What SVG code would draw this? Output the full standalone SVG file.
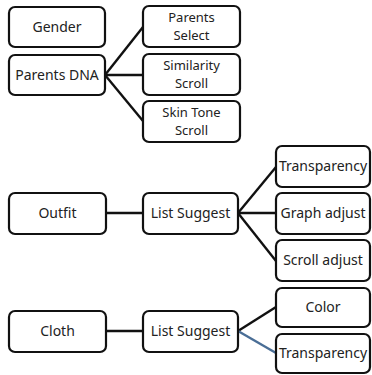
<svg xmlns="http://www.w3.org/2000/svg" width="372" height="375" viewBox="0 0 372 375">
<style>
.b{fill:#fff;stroke:#111;stroke-width:2.2}
text{font-family:"Noto Sans","Open Sans",sans-serif;font-size:14px;fill:#222;text-anchor:middle}
text.t{font-size:13px}
.c{stroke:#111;stroke-width:2.4;fill:none}
.cb{stroke:#4a6e96;stroke-width:2.4;fill:none}
</style>
<rect width="372" height="375" fill="#fff"/>
<g id="connectors">
<line class="c" x1="105" y1="75" x2="143" y2="27"/>
<line class="c" x1="105" y1="75" x2="143" y2="75"/>
<line class="c" x1="105" y1="75" x2="143" y2="121"/>
<line class="c" x1="106" y1="213" x2="143" y2="213"/>
<line class="c" x1="238" y1="213" x2="276" y2="167"/>
<line class="c" x1="238" y1="213" x2="276" y2="213"/>
<line class="c" x1="238" y1="213" x2="276" y2="261"/>
<line class="c" x1="106" y1="331" x2="143" y2="331"/>
<line class="c" x1="238" y1="331" x2="276" y2="307"/>
<line class="cb" x1="238" y1="331" x2="276" y2="353"/>
</g>
<g id="gender"><rect class="b" x="9" y="7" width="96" height="40" rx="6"/><text x="57" y="32">Gender</text></g>
<g id="parents-dna"><rect class="b" x="9" y="55" width="96" height="40" rx="6"/><text x="57" y="80">Parents DNA</text></g>
<g id="parents-select"><rect class="b" x="143" y="6" width="97" height="41" rx="6"/><text class="t" x="191.5" y="21.5">Parents</text><text class="t" x="191.5" y="39.5">Select</text></g>
<g id="similarity-scroll"><rect class="b" x="143" y="54" width="97" height="41" rx="6"/><text class="t" x="191.5" y="69.5">Similarity</text><text class="t" x="191.5" y="87.5">Scroll</text></g>
<g id="skin-tone-scroll"><rect class="b" x="143" y="101" width="97" height="41" rx="6"/><text class="t" x="191.5" y="116.5">Skin Tone</text><text class="t" x="191.5" y="134.5">Scroll</text></g>
<g id="outfit"><rect class="b" x="9" y="193" width="97" height="41" rx="6"/><text x="57.5" y="218">Outfit</text></g>
<g id="list-suggest-1"><rect class="b" x="143" y="193" width="95" height="41" rx="6"/><text x="190.5" y="218">List Suggest</text></g>
<g id="transparency-1"><rect class="b" x="276" y="146" width="94" height="41" rx="6"/><text x="323" y="171">Transparency</text></g>
<g id="graph-adjust"><rect class="b" x="276" y="193" width="94" height="41" rx="6"/><text x="323" y="218">Graph adjust</text></g>
<g id="scroll-adjust"><rect class="b" x="276" y="240" width="94" height="41" rx="6"/><text x="323" y="265">Scroll adjust</text></g>
<g id="cloth"><rect class="b" x="9" y="311" width="97" height="41" rx="6"/><text x="57.5" y="336">Cloth</text></g>
<g id="list-suggest-2"><rect class="b" x="143" y="311" width="95" height="41" rx="6"/><text x="190.5" y="336">List Suggest</text></g>
<g id="color"><rect class="b" x="276" y="288" width="94" height="39" rx="6"/><text x="323" y="312">Color</text></g>
<g id="transparency-2"><rect class="b" x="276" y="334" width="94" height="39" rx="6"/><text x="323" y="358">Transparency</text></g>
</svg>
